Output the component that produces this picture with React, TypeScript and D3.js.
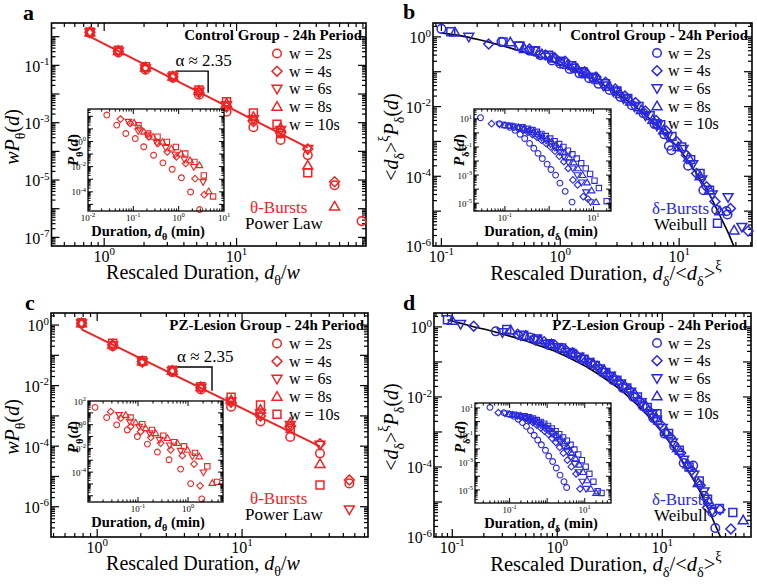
import React from "react";
import * as d3 from "d3";

type Pt = [number, number];

const RED = "#ee2424";
const BLUE = "#2a2adc";
const FONT = "Liberation Serif, Tinos, DejaVu Serif, serif";

const SYMS = ["circle", "diamond", "triDown", "triUp", "square"];
const LEGEND = ["w = 2s", "w = 4s", "w = 6s", "w = 8s", "w = 10s"];

// ---------------- Panel a : theta bursts, control ----------------
const aX = [0.78, 1.28, 2.05, 3.3, 5.2, 8.4, 13.4, 21.5, 34.5, 55, 88];
const aW2 = [1.35, 0.28, 0.07, 0.037, 0.0095, 0.0024, 0.0007, 0.00025, 0.000074, 0.0000066, 0.00000037];
const aW4 = [1.42, 0.31, 0.08, 0.04, 0.011, 0.0035, 0.0011, 0.00045, 0.00012, 0.0000087];
const aW6 = [1.4, 0.3, 0.078, 0.039, 0.012, 0.004, 0.0013, 0.00055, 0.00012];
const aW8 = [1.42, 0.32, 0.085, 0.041, 0.013, 0.0047, 0.0016, 0.00066, 0.000032, 0.0000012];
const aW10 = [1.45, 0.34, 0.089, 0.043, 0.0138, 0.0054, 0.0022, 0.00042, 0.000018];
const aFitX = [0.78, 34.5];
const aFitY = [1.0, 0.000136];
const aBracketX = [3.45, 6.1];
const aBracketY = [0.063, 0.011];
const aAlpha: Pt = [3.45, 0.095];

// inset a
const iaX2 = [0.026, 0.043, 0.068, 0.11, 0.17, 0.28, 0.45, 0.72, 1.15, 1.83, 2.9];
const iaY2 = [126, 20, 4.3, 1.7, 0.38, 0.081, 0.02, 0.0062, 0.0013, 0.000097, 0.0000039];
const iaX4 = [0.052, 0.085, 0.137, 0.22, 0.35, 0.56, 0.89, 1.43, 2.3, 3.67];
const iaY4 = [60, 27, 11, 2.3, 0.69, 0.15, 0.06, 0.018, 0.0011, 0.000059];
const iaX6 = [0.078, 0.128, 0.205, 0.33, 0.52, 0.84, 1.34, 2.15, 3.45];
const iaY6 = [37, 6.6, 3.2, 0.78, 0.31, 0.09, 0.036, 0.0095, 0.0006];
const iaX8 = [0.104, 0.171, 0.273, 0.44, 0.69, 1.12, 1.79, 2.87, 4.6];
const iaY8 = [31, 5.9, 2.3, 0.93, 0.27, 0.11, 0.032, 0.013, 0.00011];
const iaX10 = [0.13, 0.213, 0.342, 0.55, 0.87, 1.4, 2.23, 3.58, 5.75];
const iaY10 = [20, 4.3, 2.4, 0.93, 0.37, 0.11, 0.024, 0.002, 0.000043];

// ---------------- Panel c : theta bursts, PZ-lesion ----------------
const cX = [0.78, 1.28, 2.05, 3.3, 5.2, 8.4, 13.4, 21.5, 34.5, 55];
const cW2 = [1.1, 0.2, 0.06, 0.028, 0.0075, 0.002, 0.00065, 0.0002, 0.000058, 0.0000059];
const cW4 = [1.15, 0.22, 0.062, 0.03, 0.0085, 0.0028, 0.001, 0.00044, 0.00012, 0.0000076];
const cW6 = [1.12, 0.21, 0.06, 0.03, 0.0085, 0.003, 0.0012, 0.0005, 0.00011, 0.00000081];
const cW8 = [1.15, 0.23, 0.064, 0.031, 0.009, 0.0033, 0.0016, 0.0006, 0.000026];
const cW10 = [1.2, 0.25, 0.066, 0.032, 0.0092, 0.0041, 0.0023, 0.00039, 0.0000052];
const cFitX = [0.78, 34.5];
const cFitY = [0.72, 0.000098];
const cBracketX = [3.56, 6.2];
const cBracketY = [0.041, 0.0068];
const cAlpha: Pt = [3.56, 0.06];

// inset c
const icX2 = [0.0138, 0.0236, 0.0374, 0.061, 0.097, 0.154, 0.244, 0.417, 0.71, 1.13, 1.88];
const icY2 = [29, 4, 0.96, 0.36, 0.1, 0.023, 0.0049, 0.0011, 0.00018, 0.0000107, 0.00000055];
const icX4 = [0.0284, 0.045, 0.071, 0.113, 0.18, 0.284, 0.45, 0.77, 1.32, 1.74];
const icY4 = [12.6, 3.5, 0.69, 0.26, 0.083, 0.028, 0.0076, 0.0024, 0.00048, 0.000007];
const icX6 = [0.0417, 0.068, 0.105, 0.17, 0.27, 0.43, 0.71, 1.22, 2.03];
const icY6 = [6.6, 1.8, 0.69, 0.19, 0.053, 0.018, 0.0063, 0.0021, 0.000095];
const icX8 = [0.057, 0.09, 0.142, 0.225, 0.386, 0.61, 0.97, 1.67, 3.05];
const icY8 = [6.6, 1.5, 0.5, 0.19, 0.074, 0.028, 0.0076, 0.0021, 0.000012];
const icX10 = [0.071, 0.122, 0.19, 0.32, 0.52, 0.83, 1.38, 2.43, 3.8];
const icY10 = [4, 1.1, 0.36, 0.12, 0.034, 0.015, 0.0042, 0.00031, 0.000015];

// ---------------- Panel b : delta bursts, control ----------------
const bCurve: Pt[] = [[0.1, 1.3], [0.15, 1.05], [0.2, 0.85], [0.3, 0.6], [0.5, 0.36], [0.7, 0.25], [1, 0.16], [1.5, 0.09], [2, 0.055], [3, 0.024], [4, 0.012], [5, 0.0065], [7, 0.0022], [10, 0.0006], [14, 0.00012], [18, 0.00003], [22, 0.0000075], [26, 0.0000023], [30, 0.0000007]];
const bW2: Pt[] = [[0.1, 1.7], [0.32, 0.72], [0.55, 0.4], [0.68, 0.3], [0.85, 0.21], [1.0, 0.17], [1.2, 0.12], [1.45, 0.09], [1.75, 0.065], [2.1, 0.045], [2.6, 0.03], [3.2, 0.019], [4.0, 0.011], [5.0, 0.0065], [6.2, 0.0032], [7.5, 0.0016], [8.2, 0.00075], [8.6, 0.00056], [11.9, 0.0002], [16, 0.00004], [20.5, 0.000011], [25, 0.00001], [25.5, 0.000008]];
const bW4: Pt[] = [[0.25, 0.62], [0.55, 0.45], [0.75, 0.3], [0.9, 0.25], [1.1, 0.2], [1.3, 0.14], [1.6, 0.1], [2.0, 0.07], [2.4, 0.05], [2.9, 0.032], [3.5, 0.02], [4.3, 0.013], [5.2, 0.0075], [6.4, 0.004], [7.8, 0.002], [9.5, 0.001], [11.5, 0.0004], [14, 0.00012], [17, 0.00005], [20, 0.000019], [27, 0.000012], [38, 0.0000027]];
const bW6: Pt[] = [[0.17, 1.0], [0.45, 0.55], [0.6, 0.4], [0.8, 0.27], [1.0, 0.19], [1.25, 0.13], [1.5, 0.095], [1.85, 0.065], [2.3, 0.04], [2.8, 0.027], [3.4, 0.017], [4.2, 0.01], [5.2, 0.0055], [6.5, 0.0028], [8.0, 0.0014], [10.8, 0.0006], [13, 0.00022], [15.5, 0.00008], [19, 0.00003], [25.8, 0.000025], [33.7, 0.0000035]];
const bW8: Pt[] = [[0.13, 1.35], [0.38, 0.7], [0.5, 0.45], [0.7, 0.32], [0.9, 0.24], [1.15, 0.16], [1.4, 0.12], [1.7, 0.085], [2.1, 0.058], [2.6, 0.037], [3.2, 0.023], [3.9, 0.014], [4.8, 0.008], [6.0, 0.0042], [7.4, 0.0021], [9.8, 0.0007], [12, 0.00035], [15, 0.0001], [18, 0.00004], [22, 0.00001], [29, 0.0000028]];
const bW10: Pt[] = [[0.12, 1.4], [0.33, 0.72], [0.45, 0.55], [0.62, 0.4], [0.8, 0.3], [1.0, 0.2], [1.25, 0.15], [1.55, 0.1], [1.9, 0.07], [2.4, 0.045], [3.0, 0.028], [3.7, 0.017], [4.6, 0.01], [5.7, 0.0055], [7.0, 0.003], [8.7, 0.0014], [10.5, 0.0007], [12.5, 0.0003], [15, 0.00012], [18, 0.00004], [21, 0.0000045]];

// inset b
const ibW2: Pt[] = [[0.028, 12], [0.075, 4.5], [0.1, 3.5], [0.13, 2.5], [0.17, 1.5], [0.22, 0.8], [0.28, 0.4], [0.36, 0.18], [0.45, 0.08], [0.56, 0.035], [0.7, 0.015], [0.9, 0.006], [1.1, 0.0025], [1.4, 0.001], [1.75, 0.00027], [2.3, 0.00007], [3.3, 0.000012]];
const ibW4: Pt[] = [[0.05, 4.5], [0.12, 3.2], [0.16, 2.5], [0.2, 2], [0.26, 1.5], [0.33, 1.1], [0.42, 0.75], [0.53, 0.5], [0.67, 0.3], [0.85, 0.18], [1.07, 0.1], [1.35, 0.05], [1.7, 0.022], [2.15, 0.009], [2.7, 0.003], [3.45, 0.00045], [4.4, 0.0002], [5.9, 0.00003], [7.5, 0.00002]];
const ibW6: Pt[] = [[0.075, 4], [0.15, 3], [0.2, 2.4], [0.26, 1.9], [0.33, 1.4], [0.42, 1.0], [0.53, 0.7], [0.67, 0.45], [0.85, 0.28], [1.07, 0.16], [1.35, 0.09], [1.7, 0.045], [2.15, 0.02], [2.7, 0.008], [3.4, 0.003], [4.3, 0.001], [5.4, 0.0003], [6.8, 0.00006], [8.6, 0.000012]];
const ibW8: Pt[] = [[0.1, 3.5], [0.2, 2.6], [0.27, 2.1], [0.35, 1.6], [0.44, 1.2], [0.56, 0.85], [0.7, 0.6], [0.9, 0.38], [1.13, 0.24], [1.43, 0.14], [1.8, 0.08], [2.27, 0.04], [2.86, 0.018], [3.6, 0.008], [4.5, 0.003], [5.7, 0.001], [7.2, 0.0003], [9.1, 0.00008], [11.5, 0.000012]];
const ibW10: Pt[] = [[0.13, 3.2], [0.25, 2.5], [0.33, 2], [0.42, 1.6], [0.53, 1.2], [0.67, 0.85], [0.84, 0.6], [1.06, 0.4], [1.33, 0.26], [1.68, 0.16], [2.1, 0.1], [2.66, 0.055], [3.35, 0.03], [4.2, 0.015], [5.3, 0.007], [6.7, 0.003], [8.4, 0.0012], [10.6, 0.0004], [13.3, 0.00012], [20, 0.000014]];

// ---------------- Panel d : delta bursts, PZ-lesion ----------------
const dCurve: Pt[] = [[0.09, 1.6], [0.15, 1.07], [0.2, 0.87], [0.3, 0.63], [0.5, 0.4], [0.7, 0.28], [1, 0.19], [1.5, 0.105], [2, 0.066], [3, 0.03], [4, 0.016], [5, 0.0089], [7, 0.0033], [10, 0.00095], [14, 0.00024], [18, 0.00007], [22, 0.000025], [27, 0.000007], [32, 0.0000022], [37, 0.0000008]];
const dW2: Pt[] = [[0.26, 0.75], [0.55, 0.5], [0.85, 0.32], [1.05, 0.25], [1.35, 0.17], [1.7, 0.12], [2.1, 0.09], [2.7, 0.05], [3.4, 0.03], [4.2, 0.018], [5.3, 0.01], [6.5, 0.0055], [8.2, 0.0025], [10.5, 0.0009], [13, 0.0004], [16, 0.00013], [19.7, 0.00011], [25, 0.000015], [30, 0.000005], [32, 0.0000018]];
const dW4: Pt[] = [[0.16, 1.05], [0.42, 0.62], [0.6, 0.45], [0.75, 0.38], [0.95, 0.3], [1.2, 0.22], [1.5, 0.16], [1.9, 0.11], [2.4, 0.075], [3.0, 0.045], [3.8, 0.028], [4.8, 0.016], [6.0, 0.008], [7.5, 0.004], [9.5, 0.0017], [12, 0.0007], [15, 0.00025], [19, 0.00008], [23, 0.00003], [27, 0.000007], [35.5, 0.000006], [45, 0.0000017]];
const dW6: Pt[] = [[0.12, 1.2], [0.3, 0.7], [0.45, 0.58], [0.62, 0.43], [0.8, 0.33], [1.0, 0.26], [1.3, 0.19], [1.6, 0.14], [2.0, 0.1], [2.5, 0.065], [3.2, 0.04], [4.0, 0.024], [5.0, 0.014], [6.3, 0.007], [8.0, 0.0032], [10, 0.0013], [12.5, 0.0005], [16, 0.00016], [20, 0.00006], [25, 0.00002], [30, 0.0000055]];
const dW8: Pt[] = [[0.1, 1.5], [0.36, 0.8], [0.5, 0.55], [0.68, 0.42], [0.88, 0.32], [1.1, 0.24], [1.4, 0.18], [1.75, 0.13], [2.2, 0.09], [2.8, 0.058], [3.5, 0.036], [4.4, 0.021], [5.5, 0.012], [7.0, 0.0055], [8.8, 0.0025], [11, 0.001], [14, 0.00035], [17.5, 0.00012], [22, 0.000035], [28, 0.00001], [59, 0.000003]];
const dW10: Pt[] = [[0.09, 1.6], [0.33, 0.85], [0.48, 0.58], [0.65, 0.45], [0.85, 0.33], [1.1, 0.25], [1.4, 0.17], [1.8, 0.12], [2.3, 0.08], [2.9, 0.05], [3.7, 0.03], [4.6, 0.018], [5.8, 0.01], [7.2, 0.005], [9.0, 0.0022], [11.5, 0.0009], [14.5, 0.0003], [18, 0.0001], [22.5, 0.00004], [27, 0.000012], [35, 0.0000065], [47, 0.000005]];

// inset d
const idW2: Pt[] = [[0.03, 11], [0.07, 4.5], [0.1, 3.3], [0.13, 2.4], [0.17, 1.5], [0.22, 0.85], [0.28, 0.45], [0.36, 0.22], [0.45, 0.1], [0.56, 0.045], [0.7, 0.02], [0.9, 0.008], [1.1, 0.003], [1.4, 0.0012], [1.75, 0.0004], [2.2, 0.00012], [2.8, 0.00004], [3.3, 0.000015]];
const idW4: Pt[] = [[0.05, 4.5], [0.12, 3.2], [0.16, 2.6], [0.2, 2.1], [0.26, 1.6], [0.33, 1.2], [0.42, 0.85], [0.53, 0.55], [0.67, 0.35], [0.85, 0.2], [1.07, 0.12], [1.35, 0.06], [1.7, 0.03], [2.15, 0.013], [2.7, 0.005], [3.45, 0.0015], [4.4, 0.0005], [5.9, 0.00015], [7.5, 0.000012]];
const idW6: Pt[] = [[0.075, 4], [0.15, 3], [0.2, 2.5], [0.26, 2], [0.33, 1.5], [0.42, 1.1], [0.53, 0.8], [0.67, 0.55], [0.85, 0.35], [1.07, 0.22], [1.35, 0.13], [1.7, 0.07], [2.15, 0.035], [2.7, 0.016], [3.4, 0.007], [4.3, 0.0025], [5.4, 0.0008], [6.8, 0.0002], [8.6, 0.00004], [10.8, 0.000012]];
const idW8: Pt[] = [[0.1, 3.5], [0.2, 2.7], [0.27, 2.2], [0.35, 1.7], [0.44, 1.3], [0.56, 0.95], [0.7, 0.7], [0.9, 0.45], [1.13, 0.3], [1.43, 0.18], [1.8, 0.1], [2.27, 0.055], [2.86, 0.028], [3.6, 0.013], [4.5, 0.005], [5.7, 0.002], [7.2, 0.0007], [9.1, 0.0002], [11.5, 0.00005], [14.5, 0.000012], [20, 0.000006]];
const idW10: Pt[] = [[0.13, 3.2], [0.25, 2.5], [0.33, 2.1], [0.42, 1.7], [0.53, 1.3], [0.67, 0.95], [0.84, 0.7], [1.06, 0.48], [1.33, 0.32], [1.68, 0.2], [2.1, 0.12], [2.66, 0.07], [3.35, 0.04], [4.2, 0.02], [5.3, 0.009], [6.7, 0.004], [8.4, 0.0015], [10.6, 0.0005], [13.3, 0.00015], [17, 0.00004], [22, 0.000008], [28, 0.000006]];

// ---------------- helpers ----------------
function zip(xs: number[], ys: number[]): Pt[] {
  return ys.map((y, i) => [xs[i], y] as Pt);
}

function symPath(s: string, r: number): string {
  switch (s) {
    case "circle":
      return `M${-r},0A${r},${r} 0 1,0 ${r},0A${r},${r} 0 1,0 ${-r},0Z`;
    case "square": {
      const h = r * 0.92;
      return `M${-h},${-h}H${h}V${h}H${-h}Z`;
    }
    case "diamond": {
      const h = r * 1.15;
      return `M0,${-h}L${h},0L0,${h}L${-h},0Z`;
    }
    case "triUp": {
      const h = r * 1.15;
      return `M0,${-h}L${h},${h * 0.72}L${-h},${h * 0.72}Z`;
    }
    default: {
      const h = r * 1.15;
      return `M0,${h}L${h},${-h * 0.72}L${-h},${-h * 0.72}Z`;
    }
  }
}

function logTicks(dom: number[]) {
  const lo = Math.min(dom[0], dom[1]);
  const hi = Math.max(dom[0], dom[1]);
  const out: { v: number; major: boolean }[] = [];
  for (let k = Math.floor(Math.log10(lo)) - 1; k <= Math.ceil(Math.log10(hi)); k++) {
    for (let m = 1; m < 10; m++) {
      const v = m * Math.pow(10, k);
      if (v >= lo * 1.0001 && v <= hi * 0.9999) out.push({ v, major: m === 1 });
    }
  }
  return out;
}

function expStr(e: number) {
  return e < 0 ? "-" + Math.abs(e) : String(e);
}

type Seg = { t: string; i?: boolean; s?: "sub" | "sup" };

function rich(segs: Seg[], fs: number) {
  let cur = 0;
  return segs.map((g, k) => {
    const target = g.s === "sub" ? fs * 0.3 : g.s === "sup" ? -fs * 0.48 : 0;
    const dy = target - cur;
    cur = target;
    return (
      <tspan key={k} dy={dy} fontSize={g.s ? fs * 0.7 : fs} fontStyle={g.i ? "italic" : "normal"}>
        {g.t}
      </tspan>
    );
  });
}

function Axes(p: {
  xs: any; ys: any; xExps: number[]; yExps: number[]; fs: number; sfs: number;
  maj: number; mnr: number; xBase: number; yGap: number; sw: number;
}) {
  const [l, r] = p.xs.range();
  const [b, t] = p.ys.range();
  const lines: any[] = [];
  logTicks(p.xs.domain()).forEach((tk, i) => {
    const px = p.xs(tk.v);
    const L = tk.major ? p.maj : p.mnr;
    lines.push(<line key={"xb" + i} x1={px} x2={px} y1={b} y2={b - L} />);
    lines.push(<line key={"xt" + i} x1={px} x2={px} y1={t} y2={t + L} />);
  });
  logTicks(p.ys.domain()).forEach((tk, i) => {
    const py = p.ys(tk.v);
    const L = tk.major ? p.maj : p.mnr;
    lines.push(<line key={"yl" + i} x1={l} x2={l + L} y1={py} y2={py} />);
    lines.push(<line key={"yr" + i} x1={r} x2={r - L} y1={py} y2={py} />);
  });
  return (
    <g>
      <g stroke="#000" strokeWidth={p.sw * 0.75}>{lines}</g>
      <rect x={l} y={t} width={r - l} height={b - t} fill="none" stroke="#000" strokeWidth={p.sw} />
      {p.xExps.map((e) => (
        <text key={"xl" + e} x={p.xs(Math.pow(10, e))} y={p.xBase} textAnchor="middle" fontSize={p.fs}>
          10<tspan dy={-p.fs * 0.42} fontSize={p.sfs}>{expStr(e)}</tspan>
        </text>
      ))}
      {p.yExps.map((e) => (
        <text key={"ylab" + e} x={l - p.yGap} y={p.ys(Math.pow(10, e)) + p.fs * 0.4} textAnchor="end" fontSize={p.fs}>
          10<tspan dy={-p.fs * 0.42} fontSize={p.sfs}>{expStr(e)}</tspan>
        </text>
      ))}
    </g>
  );
}

function Markers(p: { series: Pt[][]; xs: any; ys: any; color: string; r: number; sw: number }) {
  return (
    <g fill="none" stroke={p.color} strokeWidth={p.sw}>
      {p.series.map((pts, si) =>
        pts.map((d, i) => (
          <path key={si + "-" + i} d={symPath(SYMS[si], p.r)} transform={`translate(${p.xs(d[0])},${p.ys(d[1])})`} />
        ))
      )}
    </g>
  );
}

type Frame = { l: number; r: number; t: number; b: number };

function Inset(p: {
  f: Frame; xDom: number[]; yDom: number[]; xExps: number[]; yExps: number[];
  series: Pt[][]; color: string; sub: string; yLab: { x: number; y: number }; xLab: { x: number; y: number };
}) {
  const xs = d3.scaleLog().domain(p.xDom).range([p.f.l, p.f.r]);
  const ys = d3.scaleLog().domain(p.yDom).range([p.f.b, p.f.t]);
  return (
    <g>
      <rect x={p.f.l} y={p.f.t} width={p.f.r - p.f.l} height={p.f.b - p.f.t} fill="#fff" />
      <Markers series={p.series} xs={xs} ys={ys} color={p.color} r={2.9} sw={1.1} />
      <Axes xs={xs} ys={ys} xExps={p.xExps} yExps={p.yExps} fs={9} sfs={6.5} maj={5} mnr={2.6} xBase={p.f.b + 9.5} yGap={2} sw={1.3} />
      <text transform={`translate(${p.yLab.x},${p.yLab.y}) rotate(-90)`} textAnchor="middle" fontWeight="bold" fontSize={15}>
        {rich([{ t: "P", i: true }, { t: p.sub, s: "sub" }, { t: "(" }, { t: "d", i: true }, { t: ")" }], 15)}
      </text>
      <text x={p.xLab.x} y={p.xLab.y} textAnchor="middle" fontWeight="bold" fontSize={14.5}>
        {rich([{ t: "Duration, " }, { t: "d", i: true }, { t: p.sub, s: "sub" }, { t: " (min)" }], 14.5)}
      </text>
    </g>
  );
}

function Panel(p: any) {
  const f: Frame = p.f;
  const xs = d3.scaleLog().domain(p.xDom).range([f.l, f.r]);
  const ys = d3.scaleLog().domain(p.yDom).range([f.b, f.t]);
  const line = d3.line<Pt>().x((d) => xs(d[0])).y((d) => ys(d[1]));
  if (p.smooth) line.curve(d3.curveMonotoneX);
  const clipId = "clip-" + p.letter;
  const rowY = (i: number) => p.leg.y0 + i * 17.7;
  return (
    <g>
      <defs>
        <clipPath id={clipId}>
          <rect x={f.l} y={f.t} width={f.r - f.l} height={f.b - f.t} />
        </clipPath>
      </defs>
      <text x={p.letterPos[0]} y={p.letterPos[1]} fontSize={22} fontWeight="bold">{p.letter}</text>
      <Axes xs={xs} ys={ys} xExps={p.xExps} yExps={p.yExps} fs={16} sfs={11} maj={8} mnr={4} xBase={f.b + 15.5} yGap={2} sw={1.6} />
      <path d={line(p.fit) || ""} fill="none" stroke={p.fitColor} strokeWidth={p.smooth ? 1.6 : 2} clipPath={`url(#${clipId})`} />
      {p.bracket && (
        <g>
          <path
            d={`M${xs(p.bracket.x[0])},${ys(p.bracket.y[0])}H${xs(p.bracket.x[1])}V${ys(p.bracket.y[1])}`}
            fill="none" stroke="#000" strokeWidth={1.4}
          />
          <text x={xs(p.alpha[0])} y={ys(p.alpha[1])} fontSize={17}>α ≈ 2.35</text>
        </g>
      )}
      <Markers series={p.series} xs={xs} ys={ys} color={p.color} r={4.3} sw={1.5} />
      {p.inset}
      <text x={f.r - 4} y={f.t + 17} textAnchor="end" fontWeight="bold" fontSize={15}>{p.title}</text>
      {LEGEND.map((lab, i) => (
        <g key={lab}>
          <path d={symPath(SYMS[i], 4.3)} transform={`translate(${p.leg.sx},${rowY(i)})`} fill="none" stroke={p.color} strokeWidth={1.5} />
          <text x={p.leg.tx} y={rowY(i) + 5.5} fontSize={16}>{lab}</text>
        </g>
      ))}
      <text x={p.burst.x} y={p.burst.y} fontSize={17} fill={p.color}>{p.burst.t1}</text>
      <text x={p.burst.x2} y={p.burst.y + 16} fontSize={17}>{p.burst.t2}</text>
      <text transform={`translate(${p.yLab.x},${p.yLab.y}) rotate(-90)`} textAnchor="middle" fontSize={20}>
        {rich(p.yLab.segs, 20)}
      </text>
      <text x={p.xLab.x} y={p.xLab.y} textAnchor="middle" fontSize={p.xLab.fs}>
        {rich(p.xLab.segs, p.xLab.fs)}
      </text>
    </g>
  );
}

const thetaY: Seg[] = [{ t: "w", i: true }, { t: "P", i: true }, { t: "θ", s: "sub" }, { t: "(" }, { t: "d", i: true }, { t: ")" }];
const thetaX: Seg[] = [{ t: "Rescaled Duration, " }, { t: "d", i: true }, { t: "θ", s: "sub" }, { t: "/" }, { t: "w", i: true }];
const deltaY: Seg[] = [{ t: "<" }, { t: "d", i: true }, { t: "δ", s: "sub" }, { t: ">" }, { t: "ξ", s: "sup" }, { t: "P", i: true }, { t: "δ", s: "sub" }, { t: "(" }, { t: "d", i: true }, { t: ")" }];
const deltaX: Seg[] = [{ t: "Rescaled Duration, " }, { t: "d", i: true }, { t: "δ", s: "sub" }, { t: "/<" }, { t: "d", i: true }, { t: "δ", s: "sub" }, { t: ">" }, { t: "ξ", s: "sup" }];

export default function App() {
  const aSeries = [zip(aX, aW2), zip(aX, aW4), zip(aX, aW6), zip(aX, aW8), zip(aX, aW10)];
  const cSeries = [zip(cX, cW2), zip(cX, cW4), zip(cX, cW6), zip(cX, cW8), zip(cX, cW10)];
  const iaSeries = [zip(iaX2, iaY2), zip(iaX4, iaY4), zip(iaX6, iaY6), zip(iaX8, iaY8), zip(iaX10, iaY10)];
  const icSeries = [zip(icX2, icY2), zip(icX4, icY4), zip(icX6, icY6), zip(icX8, icY8), zip(icX10, icY10)];

  return (
    <svg width={757} height={585} viewBox="0 0 757 585" fontFamily={FONT}
      style={{ position: "absolute", left: 0, top: 0, display: "block", background: "#fff", fontFamily: FONT }}>
      <rect width={757} height={585} fill="#fff" />
      {/* a */}
      <Panel
        letter="a" letterPos={[23, 20]}
        f={{ l: 51.5, r: 366, t: 23, b: 246 }} xDom={[0.4, 95]} yDom={[5e-8, 3]}
        xExps={[0, 1]} yExps={[-1, -3, -5, -7]}
        series={aSeries} color={RED} fit={zip(aFitX, aFitY)} fitColor={RED}
        bracket={{ x: aBracketX, y: aBracketY }} alpha={aAlpha}
        title="Control Group - 24h Period" leg={{ sx: 277, tx: 289, y0: 53.5 }}
        burst={{ x: 250, x2: 245, y: 213, t1: "θ-Bursts", t2: "Power Law" }}
        yLab={{ x: 19, y: 137, segs: thetaY }} xLab={{ x: 203, y: 279, segs: thetaX, fs: 20 }}
        inset={<Inset f={{ l: 88, r: 224, t: 109, b: 211 }} xDom={[0.01, 10]} yDom={[3e-6, 380]}
          xExps={[-2, -1, 0, 1]} yExps={[0, -2, -4]} series={iaSeries} color={RED} sub="θ"
          yLab={{ x: 78, y: 150 }} xLab={{ x: 148, y: 235.5 }} />}
      />
      {/* b */}
      <Panel
        letter="b" letterPos={[403, 19]}
        f={{ l: 433, r: 752, t: 23, b: 246 }} xDom={[0.085, 41]} yDom={[1e-6, 2.5]}
        xExps={[-1, 0, 1]} yExps={[0, -2, -4, -6]}
        series={[bW2, bW4, bW6, bW8, bW10]} color={BLUE} fit={bCurve} fitColor="#000" smooth
        title="Control Group - 24h Period" leg={{ sx: 657, tx: 668, y0: 53 }}
        burst={{ x: 652, x2: 654, y: 214, t1: "δ-Bursts", t2: "Weibull" }}
        yLab={{ x: 398, y: 137, segs: deltaY }} xLab={{ x: 606, y: 280, segs: deltaX, fs: 20.5 }}
        inset={<Inset f={{ l: 474, r: 611, t: 109, b: 211 }} xDom={[0.02, 25]} yDom={[2.8e-6, 50]}
          xExps={[-1, 1]} yExps={[1, -1, -3, -5]} series={[ibW2, ibW4, ibW6, ibW8, ibW10]} color={BLUE} sub="δ"
          yLab={{ x: 464, y: 150 }} xLab={{ x: 541, y: 235.5 }} />}
      />
      {/* c */}
      <Panel
        letter="c" letterPos={[25, 310]}
        f={{ l: 51, r: 368, t: 313, b: 537 }} xDom={[0.48, 74]} yDom={[1e-7, 2.5]}
        xExps={[0, 1]} yExps={[0, -2, -4, -6]}
        series={cSeries} color={RED} fit={zip(cFitX, cFitY)} fitColor={RED}
        bracket={{ x: cBracketX, y: cBracketY }} alpha={cAlpha}
        title="PZ-Lesion Group - 24h Period" leg={{ sx: 277, tx: 289, y0: 343.5 }}
        burst={{ x: 250, x2: 245, y: 504, t1: "θ-Bursts", t2: "Power Law" }}
        yLab={{ x: 19, y: 427, segs: thetaY }} xLab={{ x: 203, y: 570, segs: thetaX, fs: 20 }}
        inset={<Inset f={{ l: 88, r: 223, t: 401, b: 502 }} xDom={[0.01, 5]} yDom={[3e-7, 100]}
          xExps={[-1, 0]} yExps={[2, 0, -2, -4]} series={icSeries} color={RED} sub="θ"
          yLab={{ x: 78, y: 437 }} xLab={{ x: 148, y: 526.5 }} />}
      />
      {/* d */}
      <Panel
        letter="d" letterPos={[403, 310]}
        f={{ l: 434, r: 751, t: 313, b: 537 }} xDom={[0.067, 70]} yDom={[1e-6, 2.5]}
        xExps={[-1, 0, 1]} yExps={[0, -2, -4, -6]}
        series={[dW2, dW4, dW6, dW8, dW10]} color={BLUE} fit={dCurve} fitColor="#000" smooth
        title="PZ-Lesion Group - 24h Period" leg={{ sx: 657, tx: 668, y0: 343 }}
        burst={{ x: 652, x2: 654, y: 505, t1: "δ-Bursts", t2: "Weibull" }}
        yLab={{ x: 398, y: 427, segs: deltaY }} xLab={{ x: 606, y: 571, segs: deltaX, fs: 20.5 }}
        inset={<Inset f={{ l: 475, r: 611, t: 403, b: 503 }} xDom={[0.012, 50]} yDom={[1.1e-6, 23]}
          xExps={[-1, 1]} yExps={[1, -1, -3, -5]} series={[idW2, idW4, idW6, idW8, idW10]} color={BLUE} sub="δ"
          yLab={{ x: 465, y: 437 }} xLab={{ x: 541, y: 527.5 }} />}
      />
    </svg>
  );
}
